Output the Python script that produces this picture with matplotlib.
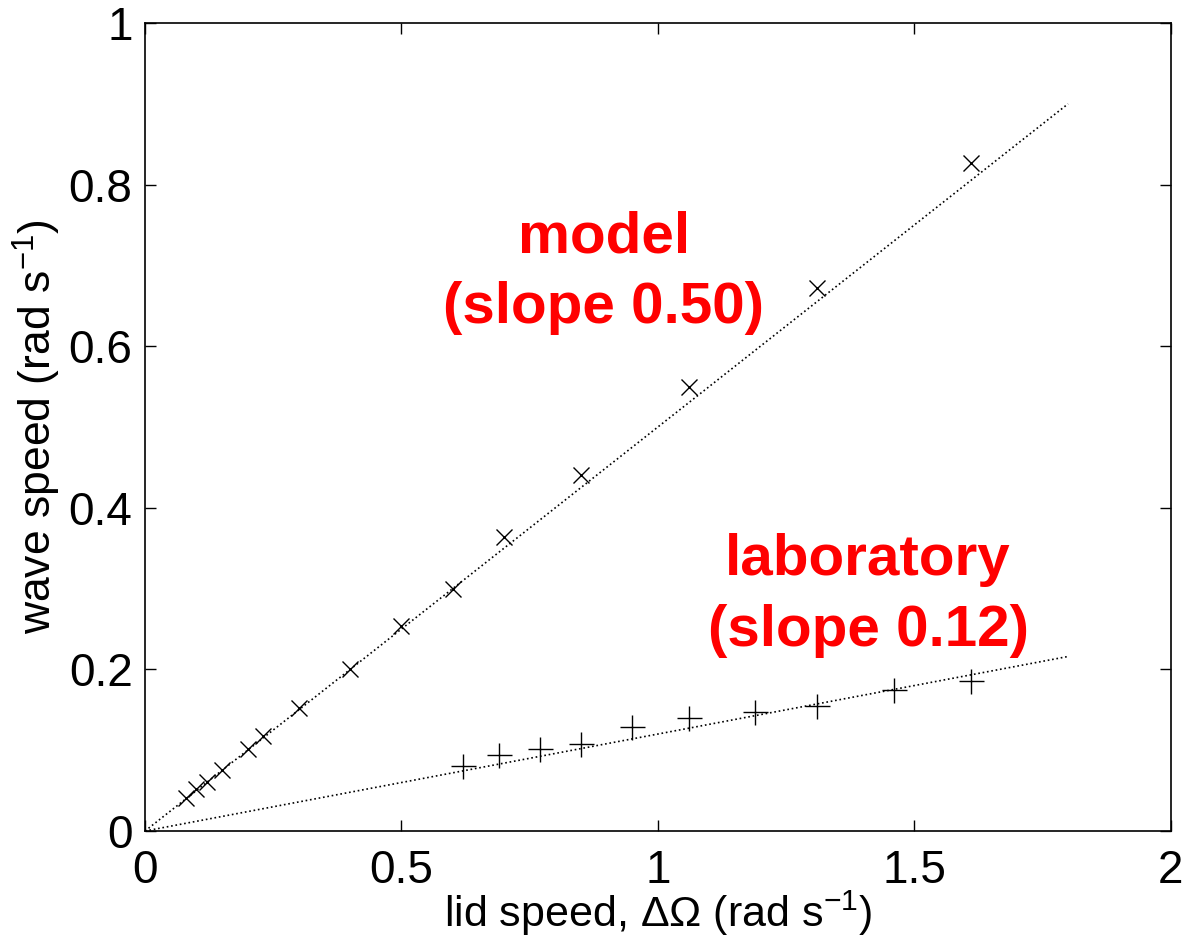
import matplotlib
matplotlib.use("Agg")
import matplotlib.pyplot as plt

plt.rcParams['font.family'] = ['Liberation Sans', 'DejaVu Sans']
plt.rcParams['mathtext.default'] = 'regular'

# model runs (x markers)
model_x = [0.08, 0.10, 0.12, 0.15, 0.20, 0.23, 0.30, 0.40, 0.50, 0.60, 0.70, 0.85, 1.06, 1.31, 1.61]
model_y = [0.041, 0.052, 0.061, 0.076, 0.101, 0.117, 0.152, 0.200, 0.254, 0.300, 0.364, 0.440, 0.549, 0.672, 0.827]

# laboratory runs (+ markers)
lab_x = [0.62, 0.69, 0.77, 0.85, 0.95, 1.06, 1.19, 1.31, 1.46, 1.61]
lab_y = [0.080, 0.094, 0.101, 0.108, 0.129, 0.140, 0.147, 0.155, 0.175, 0.186]

# fitted slopes
model_slope = 0.50
lab_slope = 0.12
fit_x = [0.0, 1.8]

fig = plt.figure(figsize=(11.82, 9.44), dpi=100)
ax = fig.add_axes([0.1227, 0.1197, 0.8677, 0.8559])

ax.plot(fit_x, [model_slope * v for v in fit_x], ':', color='black', lw=1.2)
ax.plot(fit_x, [lab_slope * v for v in fit_x], ':', color='black', lw=1.2)
ax.plot(model_x, model_y, 'x', color='black', ms=12, mew=1.0)
ax.plot(lab_x, lab_y, '+', color='black', ms=18, mew=1.0)

ax.set_xlim(0, 2)
ax.set_ylim(0, 1)
ax.set_xticks([0, 0.5, 1, 1.5, 2])
ax.set_xticklabels(['0', '0.5', '1', '1.5', '2'])
ax.set_yticks([0, 0.2, 0.4, 0.6, 0.8, 1])
ax.set_yticklabels(['0', '0.2', '0.4', '0.6', '0.8', '1'])
ax.tick_params(direction='in', length=8, width=1, labelsize=33,
               top=True, right=True)
ax.tick_params(axis='x', pad=13)
ax.tick_params(axis='y', pad=9)
for s in ax.spines.values():
    s.set_linewidth(1.2)

ax.set_xlabel('lid speed, ΔΩ (rad s$^{-1}$)', fontsize=31, labelpad=-3)
ax.set_ylabel('wave speed (rad s$^{-1}$)', fontsize=32, labelpad=4)

txt = dict(color='red', fontweight='bold', fontsize=42, ha='center', va='baseline')
ax.text(0.895, 0.7155, 'model', **txt)
ax.text(0.895, 0.6286, '(slope 0.50)', **txt)
ax.text(1.41, 0.317, 'laboratory', **txt)
ax.text(1.41, 0.2286, '(slope 0.12)', **txt)

fig.savefig('out.png', dpi=100)
